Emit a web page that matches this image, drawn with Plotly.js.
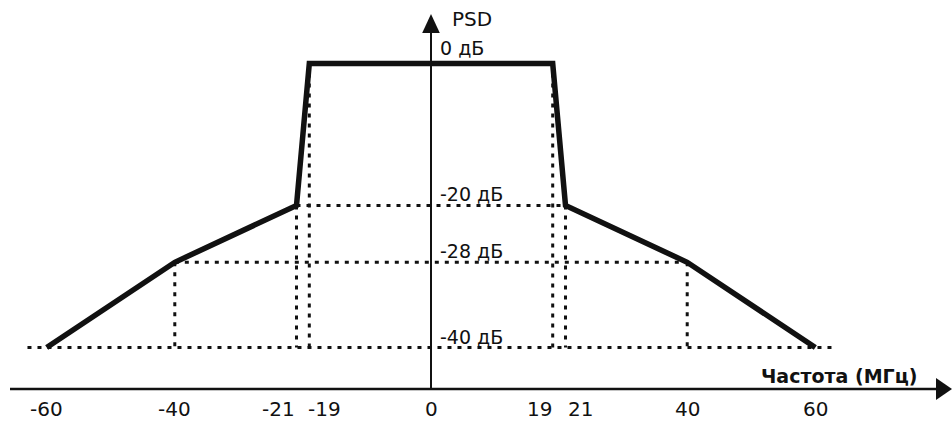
<!DOCTYPE html>
<html>
<head>
<meta charset="utf-8">
<script src="https://cdn.plot.ly/plotly-3.0.1.min.js"></script>
<style>
  html, body { margin: 0; padding: 0; background: #ffffff; }
  #chart { width: 952px; height: 421px; }
</style>
</head>
<body>
<div id="chart"></div>
<script>
// ---- data ----
const maskFreq  = [-60, -40, -21, -19, 19, 21, 40, 60];      // MHz
const maskLevel = [-40, -28, -20,   0,  0, -20, -28, -40];   // dB
const tickValues = [-60, -40, -21, -19, 0, 19, 21, 40, 60];
const tickLabels = ['-60', '-40', '-21', '-19', '0', '19', '21', '40', '60'];
const levelValues = [0, -20, -28, -40];
const levelLabels = ['0 дБ', '-20 дБ', '-28 дБ', '-40 дБ'];
const floorExtent = [-63, 63];          // extent of the -40 dB dotted guide
const xAxisTitle = 'Частота (МГц)';
const yAxisTitle = 'PSD';

// ---- layout helpers (pixel -> paper) ----
const W = 952, H = 421;
const px = v => v / W;
const py = v => 1 - v / H;
const INK = '#111111';
const FONT = 'DejaVu Sans, Liberation Sans, Arial, sans-serif';

// label offsets for crowded ticks (layout only)
const tickShift = {'-21': -18, '-19': 15, '19': -13, '21': 15};

// ---- dotted guide lines built from the mask ----
const gx = [], gy = [];
const floor = Math.min(...maskLevel);
levelValues.forEach(lv => {
  if (lv === 0) return;
  let xs;
  if (lv === floor) xs = floorExtent;
  else {
    const f = maskFreq.filter((_, i) => maskLevel[i] === lv);
    xs = [Math.min(...f), Math.max(...f)];
  }
  gx.push(xs[0], xs[1], null); gy.push(lv, lv, null);
});
maskFreq.forEach((f, i) => {
  if (maskLevel[i] === floor) return;
  gx.push(f, f, null); gy.push(maskLevel[i], floor, null);
});

const traces = [
  {
    x: gx, y: gy, type: 'scatter', mode: 'lines',
    line: {color: INK, width: 3, dash: '4px,6px'},
    hoverinfo: 'skip', showlegend: false
  },
  {
    x: maskFreq, y: maskLevel, type: 'scatter', mode: 'lines',
    line: {color: INK, width: 5.5},
    hoverinfo: 'skip', showlegend: false
  }
];

// ---- annotations ----
const annotations = [];
tickValues.forEach((v, i) => {
  annotations.push({
    x: v, xref: 'x', y: py(409), yref: 'paper',
    text: tickLabels[i], showarrow: false,
    xanchor: 'center', yanchor: 'middle',
    xshift: tickShift[tickLabels[i]] || 0,
    font: {family: FONT, size: 20, color: INK}
  });
});
levelValues.forEach((v, i) => {
  annotations.push({
    x: 0, xref: 'x', y: v, yref: 'y',
    text: levelLabels[i], showarrow: false,
    xanchor: 'left', yanchor: 'bottom',
    xshift: 7, yshift: v === 0 ? 2 : -2,
    font: {family: FONT, size: 19, color: INK}
  });
});
annotations.push({
  x: 0, xref: 'x', y: py(19), yref: 'paper',
  text: yAxisTitle, showarrow: false, xanchor: 'left', yanchor: 'middle',
  xshift: 19, font: {family: FONT, size: 20, color: INK}
});
annotations.push({
  x: px(919), xref: 'paper', y: py(376), yref: 'paper',
  text: '<b>' + xAxisTitle + '</b>', showarrow: false, xanchor: 'right', yanchor: 'middle',
  font: {family: FONT, size: 19, color: INK}
});

// ---- axes drawn as shapes ----
const xAxisY = 389;
const shapes = [
  {type: 'line', xref: 'paper', yref: 'paper', x0: px(10), x1: px(940), y0: py(xAxisY), y1: py(xAxisY),
   line: {color: INK, width: 2.5}},
  {type: 'path', xref: 'paper', yref: 'paper',
   path: `M ${px(952)} ${py(xAxisY)} L ${px(936)} ${py(xAxisY - 11)} L ${px(936)} ${py(xAxisY + 11)} Z`,
   fillcolor: INK, line: {color: INK, width: 0}},
  {type: 'line', xref: 'x', yref: 'paper', x0: 0, x1: 0, y0: py(xAxisY), y1: py(30),
   line: {color: INK, width: 2}},
  {type: 'path', xref: 'x', yref: 'paper',
   path: `M 0 ${py(14)} L ${-8.8 / 6.405} ${py(33)} L ${8.8 / 6.405} ${py(33)} Z`,
   fillcolor: INK, line: {color: INK, width: 0}}
];

const layout = {
  width: W, height: H,
  margin: {l: 0, r: 0, t: 0, b: 0, pad: 0},
  paper_bgcolor: '#ffffff', plot_bgcolor: '#ffffff',
  xaxis: {range: [-67.29, 81.34], visible: false, fixedrange: true},
  yaxis: {range: [-50.35, 8.94], visible: false, fixedrange: true},
  showlegend: false,
  annotations: annotations,
  shapes: shapes
};

Plotly.newPlot('chart', traces, layout, {staticPlot: true, displayModeBar: false});
</script>
</body>
</html>
